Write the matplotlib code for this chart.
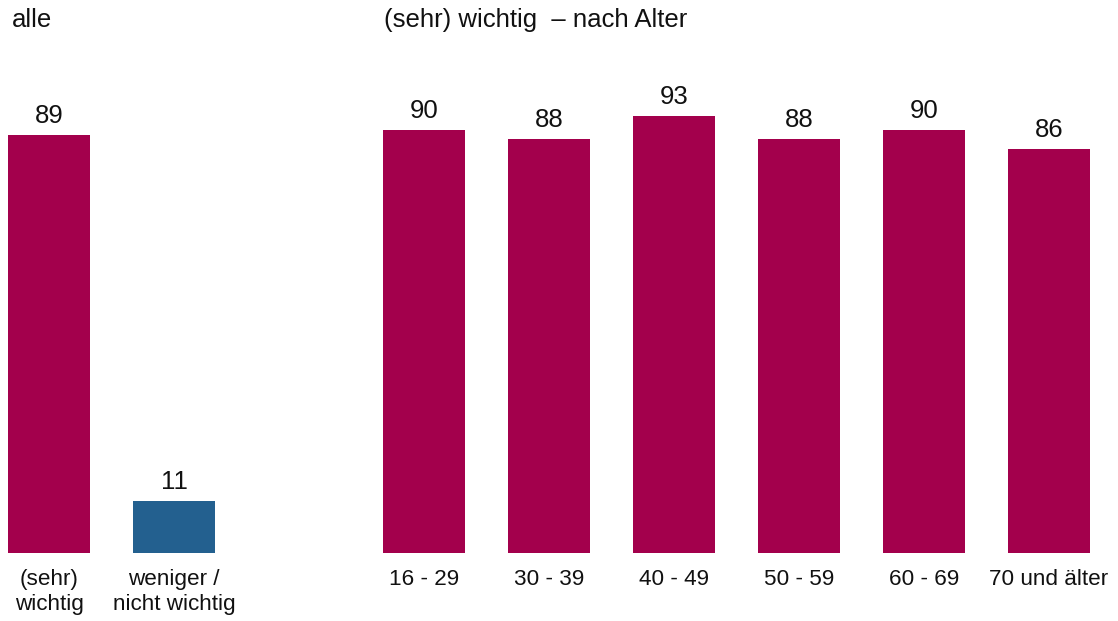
import matplotlib.pyplot as plt

plt.rcParams['font.family'] = ['Liberation Sans', 'DejaVu Sans']

# Daten
labels_alle = ['(sehr)\nwichtig', 'weniger /\nnicht wichtig']
werte_alle = [89, 11]
farben_alle = ['#A3004C', '#23608F']

labels_alter = ['16 - 29', '30 - 39', '40 - 49', '50 - 59', '60 - 69', '70 und älter']
werte_alter = [90, 88, 93, 88, 90, 86]
farbe_alter = '#A3004C'

W, H = 1118, 621
fig = plt.figure(figsize=(W / 100, H / 100), dpi=100)
ax = fig.add_axes([0, 0, 1, 1])

# Positionen: links 0,1 ; rechts ab 3
pos_alle = [0, 1]
pos_alter = [3 + i for i in range(len(werte_alter))]

breite = 0.656
ax.bar(pos_alle, werte_alle, width=breite, color=farben_alle)
ax.bar(pos_alter, werte_alter, width=breite, color=farbe_alter)

# Achsen so, dass Pixel passen
px_per_slot = 125
x0 = 49
ax.set_xlim(-x0 / px_per_slot, (W - x0) / px_per_slot)
px_per_unit = 4.70
base_px = H - 553
ax.set_ylim(-base_px / px_per_unit, (H - base_px) / px_per_unit)
ax.axis('off')

fs_wert = 18.5
fs_kat = 16.2
fs_titel = 18.5
for x, v in zip(pos_alle + pos_alter, werte_alle + werte_alter):
    ax.text(x, v + 12 / px_per_unit, str(v), ha='center', va='baseline',
            fontsize=fs_wert, color='#111111')

for x, lab in zip(pos_alle + pos_alter, labels_alle + labels_alter):
    ax.text(x, -3.3, lab, ha='center', va='top', fontsize=fs_kat, color='#111111',
            linespacing=1.25)

fig.text(12 / W, 1 - 20 / H, 'alle', ha='left', va='center', fontsize=fs_titel,
         color='#111111')
fig.text(384 / W, 1 - 20 / H, '(sehr) wichtig  – nach Alter', ha='left', va='center',
         fontsize=fs_titel, color='#111111')

fig.savefig('out.png', dpi=100, facecolor='white')
